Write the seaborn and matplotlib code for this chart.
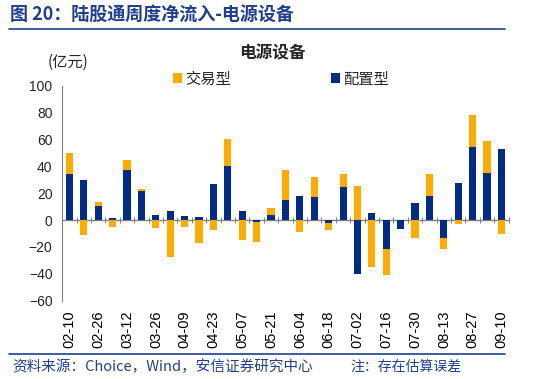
import matplotlib
matplotlib.use("Agg")
import matplotlib.pyplot as plt
from matplotlib.lines import Line2D
import numpy as np
import pandas as pd
import seaborn as sns

# ---- data (亿元) ----
dates = ["02-10", "02-19", "02-26", "03-05", "03-12", "03-19", "03-26", "04-02",
         "04-09", "04-16", "04-23", "04-30", "05-07", "05-14", "05-21", "05-28",
         "06-04", "06-11", "06-18", "06-25", "07-02", "07-09", "07-16", "07-23",
         "07-30", "08-06", "08-13", "08-20", "08-27", "09-03", "09-10"]
peizhi = [34, 29.5, 10.7, 1.2, 37, 22, 4, 6.7, 2.7, 2, 27, 40, 7, -1.5, 3.5, 15.2,
          17.9, 16.9, -2, 24.6, -40, 5.5, -21.6, -6.7, 12.4, 17.9, -13.2, 27.6,
          54.5, 35.1, 53.2]
jiaoyi = [16, -11, 2.5, -5.5, 7.5, 0.8, -6, -27.4, -5.2, -17.4, -7.2, 20, -15, -15,
          5.2, 22, -8.7, 15.2, -5.7, 9.5, 25.6, -34.6, -19.2, 0, -13.7, 16.4, -8.4,
          -2.7, 23.4, 23.4, -10.4]
shown_labels = dates[::2]

ORANGE = "#FFAB00"
BLUE = "#002B87"
NAVY = "#1F3F8F"

sns.set_style("white")
plt.rcParams["font.family"] = ["Liberation Sans", "Noto Sans CJK SC", "DejaVu Sans"]

df = pd.DataFrame({"date": dates, "配置型": peizhi, "交易型": jiaoyi})
# stacked look: same-sign segments sit on top of the 配置型 segment
same = np.sign(df["配置型"]) == np.sign(df["交易型"])
df["交易型_top"] = np.where(same, df["配置型"] + df["交易型"], df["交易型"])

fig = plt.figure(figsize=(5.5, 3.79), dpi=100)
ax = fig.add_axes([62.3 / 550, 1 - 300.7 / 379, (508.7 - 62.3) / 550, (300.7 - 85.7) / 379])

sns.barplot(data=df, x="date", y="交易型_top", color=ORANGE, width=0.5,
            linewidth=0, saturation=1, ax=ax, label="交易型", zorder=2)
sns.barplot(data=df, x="date", y="配置型", color=BLUE, width=0.5,
            linewidth=0, saturation=1, ax=ax, label="配置型", zorder=3)

ax.set_ylim(-60, 100)
ax.set_yticks(np.arange(-60, 101, 20))
ax.set_xlim(-0.5, len(dates) - 0.5)
ax.set_xlabel("")
ax.set_ylabel("")

# x tick labels at bottom, every other date
ax.set_xticks(range(0, len(dates), 2))
ax.set_xticklabels(shown_labels, rotation=90, fontsize=10.5, color="black")
ax.tick_params(axis="x", length=0, pad=7)
ax.tick_params(axis="y", length=3, width=0.8, color="#808080", direction="out",
               labelsize=10, pad=4)
for s in ["top", "right", "bottom"]:
    ax.spines[s].set_visible(False)
ax.spines["left"].set_color("#808080")
ax.spines["left"].set_linewidth(0.8)

# zero line with category-boundary ticks
sec = ax.secondary_xaxis(60 / 160)
sec.set_xticks(np.arange(0.5, len(dates) - 0.5 + 1, 1.0))
sec.set_xticklabels([])
sec.tick_params(axis="x", direction="inout", length=4, width=0.7, color="#808080")
sec.spines["bottom"].set_color("#808080")
sec.spines["bottom"].set_linewidth(1.0)
sec.spines["bottom"].set_zorder(5)

# legend
handles, labels = ax.get_legend_handles_labels()
leg = ax.legend(handles, labels, ncol=2, frameon=False, loc="center",
                bbox_to_anchor=((281 - 62.3) / 446.4, 1 + (85.7 - 79) / 215),
                handlelength=0.55, handleheight=0.55, handletextpad=0.2,
                columnspacing=6.6, prop={"family": ["Noto Sans CJK SC"], "size": 11})

# texts
fig.text(272 / 550, 1 - 53 / 379, "电源设备", ha="center", va="center",
         fontsize=12, fontweight="bold", family=["Noto Sans CJK SC"])
fig.text(68 / 550, 1 - 62 / 379, "(亿元)", ha="center", va="center",
         fontsize=11, family=["Noto Sans CJK SC", "Liberation Sans"])
fig.text(10 / 550, 1 - 15 / 379, "图 20：陆股通周度净流入-电源设备", ha="left", va="center",
         fontsize=13, fontweight="bold", color=NAVY,
         family=["Noto Sans CJK SC", "Liberation Sans"])
fig.add_artist(Line2D([9 / 550, 505 / 550], [1 - 29 / 379] * 2, color=NAVY, lw=1.2))
fig.add_artist(Line2D([9 / 550, 505 / 550], [1 - 354 / 379] * 2, color=NAVY, lw=1.2))
fig.text(12 / 550, 1 - 367 / 379, "资料来源：Choice，Wind，安信证券研究中心", ha="left",
         va="center", fontsize=10.5, color=NAVY, style="italic",
         family=["Noto Sans CJK SC", "Liberation Sans"])
fig.text(350 / 550, 1 - 367 / 379, "注：存在估算误差", ha="left", va="center",
         fontsize=10, color=NAVY, style="italic", family=["Noto Sans CJK SC"])

fig.savefig("out.png", dpi=100)
